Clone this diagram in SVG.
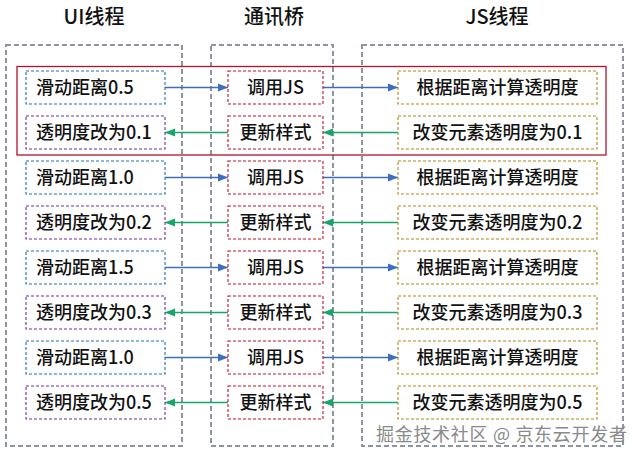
<svg xmlns="http://www.w3.org/2000/svg" width="633" height="458" viewBox="0 0 633 458">
<defs>
<style>
text{font-family:"Noto Sans CJK SC","Liberation Sans",sans-serif;fill:#111}
.title{font-size:20px;font-weight:500;text-anchor:middle}
.lbl{font-size:18px;font-weight:500}
.c{text-anchor:middle}
.cont{fill:none;stroke:#8e94a2;stroke-width:2;stroke-dasharray:5 3}
.box{fill:#fff;stroke-width:1.1;stroke-dasharray:3 2}
.ui1{stroke:#1f72b0}
.ui2{stroke:#74309a}
.br{stroke:#c0102a}
.js{stroke:#b08a1c}
.ab{stroke:#3d6fc0;stroke-width:1.3;fill:none}
.ag{stroke:#16a66a;stroke-width:1.3;fill:none}
.wm{font-size:18px;fill:#8a8a8a;letter-spacing:0.7px}
</style>
<marker id="mb" markerUnits="userSpaceOnUse" markerWidth="10" markerHeight="10" viewBox="0 0 10 10" refX="10" refY="5" orient="auto">
<path d="M0,1 L10,5 L0,9 Z" fill="#3d6fc0"/>
</marker>
<marker id="mg" markerUnits="userSpaceOnUse" markerWidth="10" markerHeight="10" viewBox="0 0 10 10" refX="10" refY="5" orient="auto">
<path d="M0,1 L10,5 L0,9 Z" fill="#16a66a"/>
</marker>
</defs>
<rect width="633" height="458" fill="#fff"/>
<g id="titles">
<text class="title" x="94" y="24">UI线程</text>
<text class="title" x="274" y="24">通讯桥</text>
<text class="title" x="497" y="24">JS线程</text>
</g>
<g id="containers">
<rect id="ui-thread" class="cont" x="6" y="45" width="176" height="401"/>
<rect id="bridge" class="cont" x="211" y="45" width="122" height="401"/>
<rect id="js-thread" class="cont" x="362" y="45" width="261" height="401"/>
</g>
<rect id="highlight" x="17" y="66.5" width="589" height="88.5" fill="none" stroke="#b3132e" stroke-width="1.3"/>
<g id="connectors">
<line class="ab" x1="165" y1="87.5" x2="228" y2="87.5" marker-end="url(#mb)"/>
<line class="ab" x1="323" y1="87.5" x2="398" y2="87.5" marker-end="url(#mb)"/>
<line class="ag" x1="398" y1="132.5" x2="323" y2="132.5" marker-end="url(#mg)"/>
<line class="ag" x1="228" y1="132.5" x2="165" y2="132.5" marker-end="url(#mg)"/>
<line class="ab" x1="165" y1="177.5" x2="228" y2="177.5" marker-end="url(#mb)"/>
<line class="ab" x1="323" y1="177.5" x2="398" y2="177.5" marker-end="url(#mb)"/>
<line class="ag" x1="398" y1="222.5" x2="323" y2="222.5" marker-end="url(#mg)"/>
<line class="ag" x1="228" y1="222.5" x2="165" y2="222.5" marker-end="url(#mg)"/>
<line class="ab" x1="165" y1="267.5" x2="228" y2="267.5" marker-end="url(#mb)"/>
<line class="ab" x1="323" y1="267.5" x2="398" y2="267.5" marker-end="url(#mb)"/>
<line class="ag" x1="398" y1="312.5" x2="323" y2="312.5" marker-end="url(#mg)"/>
<line class="ag" x1="228" y1="312.5" x2="165" y2="312.5" marker-end="url(#mg)"/>
<line class="ab" x1="165" y1="357.5" x2="228" y2="357.5" marker-end="url(#mb)"/>
<line class="ab" x1="323" y1="357.5" x2="398" y2="357.5" marker-end="url(#mb)"/>
<line class="ag" x1="398" y1="402.5" x2="323" y2="402.5" marker-end="url(#mg)"/>
<line class="ag" x1="228" y1="402.5" x2="165" y2="402.5" marker-end="url(#mg)"/>
</g>
<g id="ui-1"><rect class="box ui1" x="26" y="71" width="139" height="33"/><text class="lbl" x="36" y="94">滑动距离0.5</text></g>
<g id="bridge-1"><rect class="box br" x="228" y="71" width="95" height="33"/><text class="lbl c" x="275.5" y="94">调用JS</text></g>
<g id="js-1"><rect class="box js" x="398" y="71" width="199" height="33"/><text class="lbl c" x="497.5" y="94">根据距离计算透明度</text></g>

<g id="ui-2"><rect class="box ui2" x="26" y="116" width="139" height="33"/><text class="lbl" x="36" y="139">透明度改为0.1</text></g>
<g id="bridge-2"><rect class="box br" x="228" y="116" width="95" height="33"/><text class="lbl c" x="275.5" y="139">更新样式</text></g>
<g id="js-2"><rect class="box js" x="398" y="116" width="199" height="33"/><text class="lbl c" x="497.5" y="139">改变元素透明度为0.1</text></g>

<g id="ui-3"><rect class="box ui1" x="26" y="161" width="139" height="33"/><text class="lbl" x="36" y="184">滑动距离1.0</text></g>
<g id="bridge-3"><rect class="box br" x="228" y="161" width="95" height="33"/><text class="lbl c" x="275.5" y="184">调用JS</text></g>
<g id="js-3"><rect class="box js" x="398" y="161" width="199" height="33"/><text class="lbl c" x="497.5" y="184">根据距离计算透明度</text></g>

<g id="ui-4"><rect class="box ui2" x="26" y="206" width="139" height="33"/><text class="lbl" x="36" y="229">透明度改为0.2</text></g>
<g id="bridge-4"><rect class="box br" x="228" y="206" width="95" height="33"/><text class="lbl c" x="275.5" y="229">更新样式</text></g>
<g id="js-4"><rect class="box js" x="398" y="206" width="199" height="33"/><text class="lbl c" x="497.5" y="229">改变元素透明度为0.2</text></g>

<g id="ui-5"><rect class="box ui1" x="26" y="251" width="139" height="33"/><text class="lbl" x="36" y="274">滑动距离1.5</text></g>
<g id="bridge-5"><rect class="box br" x="228" y="251" width="95" height="33"/><text class="lbl c" x="275.5" y="274">调用JS</text></g>
<g id="js-5"><rect class="box js" x="398" y="251" width="199" height="33"/><text class="lbl c" x="497.5" y="274">根据距离计算透明度</text></g>

<g id="ui-6"><rect class="box ui2" x="26" y="296" width="139" height="33"/><text class="lbl" x="36" y="319">透明度改为0.3</text></g>
<g id="bridge-6"><rect class="box br" x="228" y="296" width="95" height="33"/><text class="lbl c" x="275.5" y="319">更新样式</text></g>
<g id="js-6"><rect class="box js" x="398" y="296" width="199" height="33"/><text class="lbl c" x="497.5" y="319">改变元素透明度为0.3</text></g>

<g id="ui-7"><rect class="box ui1" x="26" y="341" width="139" height="33"/><text class="lbl" x="36" y="364">滑动距离1.0</text></g>
<g id="bridge-7"><rect class="box br" x="228" y="341" width="95" height="33"/><text class="lbl c" x="275.5" y="364">调用JS</text></g>
<g id="js-7"><rect class="box js" x="398" y="341" width="199" height="33"/><text class="lbl c" x="497.5" y="364">根据距离计算透明度</text></g>

<g id="ui-8"><rect class="box ui2" x="26" y="386" width="139" height="33"/><text class="lbl" x="36" y="409">透明度改为0.5</text></g>
<g id="bridge-8"><rect class="box br" x="228" y="386" width="95" height="33"/><text class="lbl c" x="275.5" y="409">更新样式</text></g>
<g id="js-8"><rect class="box js" x="398" y="386" width="199" height="33"/><text class="lbl c" x="497.5" y="409">改变元素透明度为0.5</text></g>

<text class="wm" x="376" y="441">掘金技术社区 @ 京东云开发者</text>
</svg>
